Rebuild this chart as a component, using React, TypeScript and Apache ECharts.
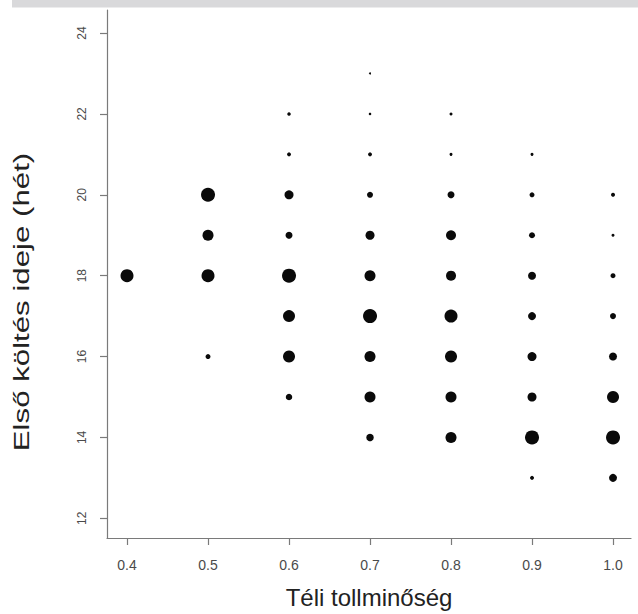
import React, { useEffect, useRef } from "react";
import * as echarts from "echarts";

// Téli tollminőség (x), Első költés ideje (y), pont mérete (átmérő)
const teliTollminoseg = [
  0.4,
  0.5, 0.5, 0.5, 0.5,
  0.6, 0.6, 0.6, 0.6, 0.6, 0.6, 0.6, 0.6,
  0.7, 0.7, 0.7, 0.7, 0.7, 0.7, 0.7, 0.7, 0.7, 0.7,
  0.8, 0.8, 0.8, 0.8, 0.8, 0.8, 0.8, 0.8, 0.8,
  0.9, 0.9, 0.9, 0.9, 0.9, 0.9, 0.9, 0.9, 0.9,
  1.0, 1.0, 1.0, 1.0, 1.0, 1.0, 1.0, 1.0,
];
const elsoKoltes = [
  18,
  20, 19, 18, 16,
  22, 21, 20, 19, 18, 17, 16, 15,
  23, 22, 21, 20, 19, 18, 17, 16, 15, 14,
  22, 21, 20, 19, 18, 17, 16, 15, 14,
  21, 20, 19, 18, 17, 16, 15, 14, 13,
  20, 19, 18, 17, 16, 15, 14, 13,
];
const pontMeret = [
  13,
  14, 11, 13, 5,
  3.5, 4, 9, 7, 14, 12, 12, 6.5,
  2, 2.5, 4, 6, 9, 11, 14, 11, 11, 7.5,
  3, 3, 7, 10, 10, 13, 12, 11, 11,
  3, 5, 6, 8, 8, 9, 9, 14, 4,
  4, 3, 5, 6, 8, 12, 14, 8,
];
const xTicks = [0.4, 0.5, 0.6, 0.7, 0.8, 0.9, 1.0];
const yTicks = [12, 14, 16, 18, 20, 22, 24];

const FONT = "'Liberation Sans', Arial, Helvetica, sans-serif";

export default function App() {
  const ref = useRef<HTMLDivElement>(null);
  useEffect(() => {
    if (!ref.current) return;
    const chart = echarts.init(ref.current, null, { renderer: "svg" });
    const data = teliTollminoseg.map((x, i) => [x, elsoKoltes[i], pontMeret[i]]);
    chart.setOption({
      animation: false,
      backgroundColor: "#ffffff",
      textStyle: { fontFamily: FONT },
      grid: {
        left: 107,
        right: 7,
        top: 10,
        bottom: 76,
        containLabel: false,
        outerBoundsMode: "none",
      },
      xAxis: {
        type: "value",
        min: 0.3753,
        max: 1.0222,
        splitLine: { show: false },
        axisLine: { show: true, lineStyle: { color: "#7a7a7a", width: 1.2 } },
        axisTick: {
          show: true,
          length: 7,
          customValues: xTicks,
          lineStyle: { color: "#7a7a7a", width: 1.2 },
        },
        axisLabel: {
          customValues: xTicks,
          formatter: (v: number) => v.toFixed(1),
          margin: 20,
          fontSize: 14,
          color: "#4a4a4a",
          fontFamily: FONT,
        },
        name: "Téli tollminőség",
        nameLocation: "middle",
        nameGap: 47,
        nameTextStyle: { fontSize: 24, color: "#222", fontFamily: FONT },
      },
      yAxis: {
        type: "value",
        min: 11.513,
        max: 24.57,
        splitLine: { show: false },
        axisLine: { show: true, lineStyle: { color: "#7a7a7a", width: 1.2 } },
        axisTick: {
          show: true,
          length: 7,
          customValues: yTicks,
          lineStyle: { color: "#7a7a7a", width: 1.2 },
        },
        axisLabel: {
          customValues: yTicks,
          rotate: 90,
          margin: 19,
          fontSize: 12,
          color: "#4a4a4a",
          fontFamily: FONT,
        },
      },
      graphic: [
        {
          type: "rect",
          x: 0,
          y: 0,
          shape: { x: 12, y: 0, width: 626, height: 7.5 },
          style: { fill: "#d9d9db" },
          z: 10,
        },
        {
          type: "text",
          x: 22,
          y: 302,
          rotation: Math.PI / 2,
          scaleX: 1.42,
          style: {
            text: "Első költés ideje (hét)",
            fontSize: 22,
            fontFamily: FONT,
            fill: "#222",
            align: "center",
            verticalAlign: "middle",
          },
        },
      ],
      series: [
        {
          type: "scatter",
          data,
          symbol: "circle",
          symbolSize: (v: number[]) => v[2],
          itemStyle: { color: "#0a0a0a", opacity: 1 },
        },
      ],
    });
    return () => chart.dispose();
  }, []);
  return (
    <div
      ref={ref}
      style={{ position: "absolute", left: 0, top: 0, width: 638, height: 614 }}
    />
  );
}
